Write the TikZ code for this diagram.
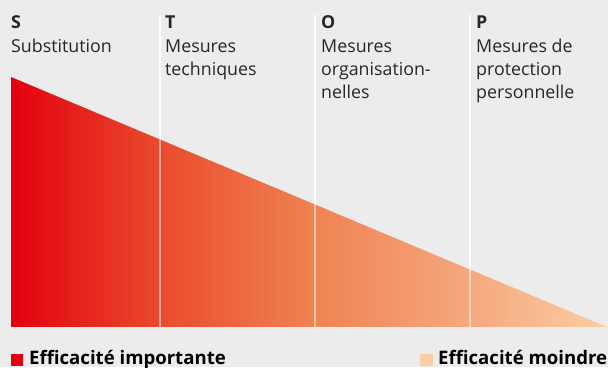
\documentclass[tikz,border=0pt]{standalone}
\usepackage{fontspec}
\setmainfont{Open Sans}
\definecolor{bg}{HTML}{ECECEC}
\definecolor{ca}{HTML}{E3000F}
\definecolor{cb}{HTML}{E94B2D}
\definecolor{cc}{HTML}{EF8353}
\definecolor{cd}{HTML}{F5A87E}
\definecolor{ce}{HTML}{FBCDA4}
\pgfdeclarehorizontalshading{eff}{100bp}{color(0bp)=(ca); color(25bp)=(ca); color(37.5bp)=(cb); color(50.5bp)=(cc); color(63.5bp)=(cd); color(75bp)=(ce); color(100bp)=(ce)}
\tikzset{
  txt/.style={anchor=base west, inner sep=0pt, font=\fontsize{17.8}{23}\selectfont, text=black!85},
  head/.style={txt, font=\fontsize{17.8}{23}\selectfont\bfseries},
  leg/.style={anchor=base west, inner sep=0pt, font=\fontsize{18.6}{23}\selectfont\bfseries},
  sep/.style={draw=white, line width=1.3pt},
}
\begin{document}
\begin{tikzpicture}[x=1pt,y=1pt]
\fill[bg] (0,0) rectangle (608,367);
\useasboundingbox (0,0) rectangle (608,367);
% separator coordinates
\coordinate (t1) at (160,352); \coordinate (b1) at (160,40);
\coordinate (t2) at (315,352); \coordinate (b2) at (315,40);
\coordinate (t3) at (470,352); \coordinate (b3) at (470,40);
\draw[sep] (t1) -- (b1);
\draw[sep] (t2) -- (b2);
\draw[sep] (t3) -- (b3);
% triangle
\coordinate (A) at (11,290);
\coordinate (B) at (11,40);
\coordinate (C) at (607,40);
\shade[shading=eff] (A) -- (B) -- (C) -- cycle;
\begin{scope}
  \clip (A) -- (B) -- (C) -- cycle;
  \draw[sep, draw opacity=0.5] (t1) -- (b1);
  \draw[sep, draw opacity=0.5] (t2) -- (b2);
  \draw[sep, draw opacity=0.5] (t3) -- (b3);
\end{scope}
% column texts
\node[head] (s0) at (11,338) {S};
\node[txt] (s1) at (11,314) {Substitution};
\node[head] (t0) at (165,338) {T};
\node[txt] (tl1) at (165,314) {Mesures};
\node[txt] (tl2) at (165,291) {techniques};
\node[head] (o0) at (321,338) {O};
\node[txt] (o1) at (321,314) {Mesures};
\node[txt] (o2) at (321,291) {organisation-};
\node[txt] (o3) at (321,268) {nelles};
\node[head] (p0) at (476,338) {P};
\node[txt] (p1) at (476,314) {Mesures de};
\node[txt] (p2) at (476,291) {protection};
\node[txt] (p3) at (476,268) {personnelle};
% legend
\fill[ca] (11,1) rectangle (23,13);
\node[leg] (l1) at (29,2) {Efficacité importante};
\fill[ce] (420,1) rectangle (433,13);
\node[leg] (l2) at (438,2) {Efficacité moindre};
\end{tikzpicture}
\end{document}
